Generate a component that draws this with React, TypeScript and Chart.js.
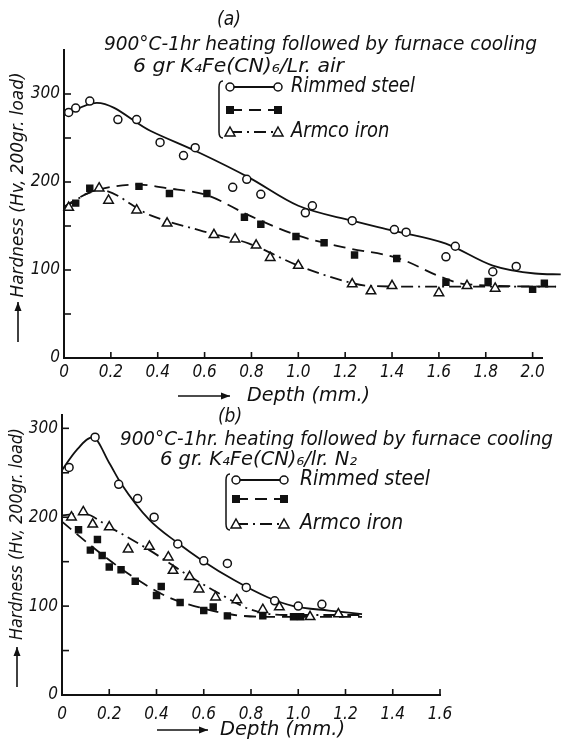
import { useEffect, useRef } from "react";
import { Chart, registerables } from "chart.js";

Chart.register(...registerables);

const INK = "#111";
const FONT = '"Liberation Sans Narrow", "DejaVu Sans Condensed", "Liberation Sans", sans-serif';

// ---------- Panel (a): air ----------
const rimA_x = [0.02, 0.05, 0.11, 0.23, 0.31, 0.41, 0.51, 0.56, 0.72, 0.78, 0.84, 1.03, 1.06, 1.23, 1.41, 1.46, 1.63, 1.67, 1.83, 1.93, 2.07];
const rimA_y = [279, 284, 292, 271, 271, 245, 230, 239, 194, 203, 186, 165, 173, 156, 146, 143, 115, 127, 98, 104, 98];
const sqA_x = [0.05, 0.11, 0.32, 0.45, 0.61, 0.77, 0.84, 0.99, 1.11, 1.24, 1.42, 1.63, 1.81, 2.0, 2.05];
const sqA_y = [176, 193, 195, 187, 187, 160, 152, 138, 131, 117, 113, 86, 87, 78, 85];
const triA_x = [0.02, 0.15, 0.19, 0.31, 0.44, 0.64, 0.73, 0.82, 0.88, 1.0, 1.23, 1.31, 1.4, 1.6, 1.72, 1.84];
const triA_y = [171, 193, 179, 168, 153, 140, 135, 128, 114, 105, 84, 76, 82, 74, 82, 79];

const rimCurveA_x = [0, 0.14, 0.37, 0.58, 0.79, 1.0, 1.23, 1.4, 1.63, 1.83, 2.01, 2.12];
const rimCurveA_y = [276, 290, 258, 233, 205, 173, 156, 145, 130, 105, 96, 95];
const sqCurveA_x = [0, 0.11, 0.32, 0.44, 0.61, 0.79, 1.0, 1.19, 1.43, 1.61, 1.71, 2.1];
const sqCurveA_y = [172, 188, 197, 193, 185, 162, 139, 126, 113, 92, 84, 81];
const triCurveA_x = [0, 0.15, 0.37, 0.58, 0.79, 1.0, 1.19, 1.3, 1.54, 2.1];
const triCurveA_y = [171, 191, 162, 145, 130, 105, 88, 82, 81, 81];

// ---------- Panel (b): N2 ----------
const rimB_x = [0.03, 0.14, 0.24, 0.32, 0.39, 0.49, 0.6, 0.7, 0.78, 0.9, 1.0, 1.1];
const rimB_y = [256, 290, 237, 221, 200, 170, 151, 148, 121, 106, 100, 102];
const triB_x = [0.04, 0.09, 0.13, 0.2, 0.28, 0.37, 0.45, 0.47, 0.54, 0.58, 0.65, 0.74, 0.85, 0.92, 1.05, 1.17];
const triB_y = [200, 206, 192, 189, 164, 167, 155, 140, 133, 119, 110, 107, 96, 99, 88, 91];
const sqB_x = [0.07, 0.12, 0.15, 0.17, 0.2, 0.25, 0.31, 0.4, 0.42, 0.5, 0.6, 0.64, 0.7, 0.85, 0.98, 1.01];
const sqB_y = [186, 163, 175, 157, 144, 141, 128, 112, 122, 104, 95, 99, 89, 89, 88, 88];

const rimCurveB_x = [0, 0.06, 0.13, 0.2, 0.25, 0.37, 0.49, 0.59, 0.73, 0.87, 0.98, 1.13, 1.27];
const rimCurveB_y = [253, 275, 290, 261, 238, 197, 171, 152, 129, 110, 100, 95, 91];
const triCurveB_x = [0, 0.09, 0.2, 0.37, 0.52, 0.66, 0.8, 0.94, 1.27];
const triCurveB_y = [202, 204, 189, 163, 137, 115, 96, 90, 90];
const sqCurveB_x = [0, 0.16, 0.3, 0.45, 0.59, 0.73, 0.87, 1.27];
const sqCurveB_y = [195, 160, 133, 110, 98, 90, 88, 88];

// ---------- Text ----------
const legendRimmed = "Rimmed steel";
const legendArmco = "Armco iron";
const yTitle = "Hardness (Hv, 200gr. load)";
const xTitle = "Depth (mm.)";
const titleA = ["(a)", "900°C-1hr heating followed by furnace cooling", "6 gr K₄Fe(CN)₆/Lr. air"];
const titleB = ["(b)", "900°C-1hr. heating followed by furnace cooling", "6 gr. K₄Fe(CN)₆/lr. N₂"];

const DASH_SQ = [12, 7];
const DASH_TRI = [12, 5, 2, 5];

function pts(xs: number[], ys: number[]) {
  return xs.map((x, i) => ({ x, y: ys[i] }));
}

function pointSet(data: any, style: string) {
  const base: any = {
    data,
    showLine: false,
    pointStyle: style,
    borderColor: INK,
    borderWidth: 1.5,
    clip: false,
  };
  if (style === "circle") Object.assign(base, { pointRadius: 4, backgroundColor: "#fff" });
  if (style === "rect") Object.assign(base, { pointRadius: 4.2, backgroundColor: INK });
  if (style === "triangle") Object.assign(base, { pointRadius: 5.5, backgroundColor: "#fff" });
  return base;
}

function curveSet(data: any, dash: number[]) {
  return {
    data,
    showLine: true,
    pointRadius: 0,
    borderColor: INK,
    borderWidth: 1.8,
    borderDash: dash,
    cubicInterpolationMode: "monotone",
    fill: false,
    clip: false,
  };
}

// draw text stretched/compressed horizontally to a target width
function fitText(ctx: CanvasRenderingContext2D, text: string, x: number, y: number, w: number, align: "left" | "center" = "left") {
  const m = ctx.measureText(text).width || 1;
  const s = w / m;
  ctx.save();
  ctx.translate(x, y);
  ctx.scale(s, 1);
  ctx.textAlign = align;
  ctx.fillText(text, 0, 0);
  ctx.restore();
}

function drawMarker(ctx: CanvasRenderingContext2D, style: string, x: number, y: number) {
  ctx.save();
  ctx.setLineDash([]);
  ctx.lineWidth = 1.5;
  ctx.strokeStyle = INK;
  if (style === "circle") {
    ctx.fillStyle = "#fff";
    ctx.beginPath();
    ctx.arc(x, y, 4, 0, Math.PI * 2);
    ctx.fill();
    ctx.stroke();
  } else if (style === "rect") {
    ctx.fillStyle = INK;
    ctx.fillRect(x - 4, y - 4, 8, 8);
  } else {
    ctx.fillStyle = "#fff";
    ctx.beginPath();
    ctx.moveTo(x, y - 5);
    ctx.lineTo(x + 5, y + 4);
    ctx.lineTo(x - 5, y + 4);
    ctx.closePath();
    ctx.fill();
    ctx.stroke();
  }
  ctx.restore();
}

function arrow(ctx: CanvasRenderingContext2D, x1: number, y1: number, x2: number, y2: number) {
  ctx.save();
  ctx.strokeStyle = INK;
  ctx.fillStyle = INK;
  ctx.lineWidth = 1.6;
  ctx.beginPath();
  ctx.moveTo(x1, y1);
  ctx.lineTo(x2, y2);
  ctx.stroke();
  const a = Math.atan2(y2 - y1, x2 - x1);
  ctx.beginPath();
  ctx.moveTo(x2, y2);
  ctx.lineTo(x2 - 9 * Math.cos(a) + 3.5 * Math.sin(a), y2 - 9 * Math.sin(a) - 3.5 * Math.cos(a));
  ctx.lineTo(x2 - 9 * Math.cos(a) - 3.5 * Math.sin(a), y2 - 9 * Math.sin(a) + 3.5 * Math.cos(a));
  ctx.closePath();
  ctx.fill();
  ctx.restore();
}

type Layout = {
  title: string[];
  titlePos: { lx: number; ly: number; l1x: number; l1y: number; l1w: number; l2x: number; l2y: number; l2w: number };
  legend: { bx: number; y0: number; y1: number; y2: number; x1: number; x2: number; tx: number; w0: number };
  yt: { x: number; cy: number; w: number; a0: number; a1: number };
  xt: { a0: number; a1: number; y: number; tx: number; tw: number };
  yMinor: number[];
  xTicks: number[];
};

function makeOverlay(L: Layout) {
  return {
    id: "overlay",
    afterDraw(chart: any) {
      const ctx: CanvasRenderingContext2D = chart.ctx;
      const xs = chart.scales.x;
      const ys = chart.scales.y;
      const area = chart.chartArea;
      ctx.save();
      // inward ticks
      ctx.strokeStyle = INK;
      ctx.lineWidth = 1.6;
      ctx.setLineDash([]);
      for (const v of L.yMinor) {
        const py = ys.getPixelForValue(v);
        ctx.beginPath();
        ctx.moveTo(area.left, py);
        ctx.lineTo(area.left + 7, py);
        ctx.stroke();
      }
      for (const v of L.xTicks) {
        const px = xs.getPixelForValue(v);
        ctx.beginPath();
        ctx.moveTo(px, area.bottom);
        ctx.lineTo(px, area.bottom - 6);
        ctx.stroke();
      }
      // titles
      ctx.fillStyle = INK;
      ctx.textBaseline = "middle";
      ctx.font = `italic 19px ${FONT}`;
      ctx.textAlign = "center";
      ctx.fillText(L.title[0], L.titlePos.lx, L.titlePos.ly);
      fitText(ctx, L.title[1], L.titlePos.l1x, L.titlePos.l1y, L.titlePos.l1w);
      fitText(ctx, L.title[2], L.titlePos.l2x, L.titlePos.l2y, L.titlePos.l2w);
      // legend
      const lg = L.legend;
      ctx.lineWidth = 1.5;
      ctx.beginPath();
      ctx.moveTo(lg.bx + 4, lg.y0 - 6);
      ctx.quadraticCurveTo(lg.bx, lg.y0 - 6, lg.bx, lg.y0);
      ctx.lineTo(lg.bx, lg.y2);
      ctx.quadraticCurveTo(lg.bx, lg.y2 + 6, lg.bx + 4, lg.y2 + 6);
      ctx.stroke();
      ctx.font = `italic 21px ${FONT}`;
      const legScale = lg.w0 / (ctx.measureText(legendRimmed).width || 1);
      const rows: [number, number[], string, string][] = [
        [lg.y0, [], "circle", legendRimmed],
        [lg.y1, DASH_SQ, "rect", ""],
        [lg.y2, DASH_TRI, "triangle", legendArmco],
      ];
      for (const [y, dash, st, label] of rows) {
        ctx.save();
        ctx.setLineDash(dash);
        ctx.lineWidth = 1.8;
        ctx.beginPath();
        ctx.moveTo(lg.x1, y);
        ctx.lineTo(lg.x2, y);
        ctx.stroke();
        ctx.restore();
        drawMarker(ctx, st, lg.x1, y);
        drawMarker(ctx, st, lg.x2, y);
        if (label) {
          ctx.save();
          ctx.translate(lg.tx, y);
          ctx.scale(legScale, 1);
          ctx.textAlign = "left";
          ctx.fillText(label, 0, 0);
          ctx.restore();
        }
      }
      // y title
      ctx.save();
      ctx.translate(L.yt.x, L.yt.cy);
      ctx.rotate(-Math.PI / 2);
      ctx.font = `italic 18px ${FONT}`;
      fitText(ctx, yTitle, 0, 0, L.yt.w, "center");
      ctx.restore();
      arrow(ctx, L.yt.x, L.yt.a0, L.yt.x, L.yt.a1);
      // x title
      arrow(ctx, L.xt.a0, L.xt.y, L.xt.a1, L.xt.y);
      ctx.font = `italic 20px ${FONT}`;
      fitText(ctx, xTitle, L.xt.tx, L.xt.y, L.xt.tw);
      ctx.restore();
    },
  };
}

function makeConfig(opts: {
  datasets: any[];
  xMax: number;
  yMax: number;
  padTop: number;
  padRight: number;
  yWidth: number;
  xHeight: number;
  xPad: number;
  layout: Layout;
}) {
  const tickFont = { family: FONT, size: 17, style: "italic" as const };
  return {
    type: "scatter" as const,
    data: { datasets: opts.datasets },
    options: {
      animation: false,
      responsive: false,
      events: [],
      layout: { padding: { top: opts.padTop, right: opts.padRight, left: 0, bottom: 0 } },
      plugins: { legend: { display: false }, tooltip: { enabled: false }, title: { display: false } },
      scales: {
        x: {
          type: "linear",
          min: 0,
          max: opts.xMax,
          grid: { display: false, drawTicks: false },
          border: { display: true, color: INK, width: 2 },
          ticks: {
            stepSize: 0.2,
            includeBounds: false,
            color: INK,
            font: tickFont,
            padding: opts.xPad,
            maxRotation: 0,
            autoSkip: false,
            callback: (v: number) => (Math.abs(v) < 1e-9 ? "0" : Number(v).toFixed(1)),
          },
          afterFit: (s: any) => {
            s.height = opts.xHeight;
          },
        },
        y: {
          type: "linear",
          min: 0,
          max: opts.yMax,
          grid: { display: false, drawTicks: false },
          border: { display: true, color: INK, width: 2 },
          ticks: {
            stepSize: 50,
            includeBounds: false,
            color: INK,
            font: tickFont,
            padding: 4,
            autoSkip: false,
            callback: (v: number) => (v % 100 === 0 ? String(v) : ""),
          },
          afterFit: (s: any) => {
            s.width = opts.yWidth;
          },
        },
      },
    },
    plugins: [makeOverlay(opts.layout)],
  };
}

export default function App() {
  const refA = useRef<HTMLCanvasElement>(null);
  const refB = useRef<HTMLCanvasElement>(null);

  useEffect(() => {
    const xTicksA = [0, 0.2, 0.4, 0.6, 0.8, 1.0, 1.2, 1.4, 1.6, 1.8, 2.0];
    const xTicksB = [0, 0.2, 0.4, 0.6, 0.8, 1.0, 1.2, 1.4, 1.6];
    const chartA = new Chart(
      refA.current as HTMLCanvasElement,
      makeConfig({
        datasets: [
          pointSet(pts(rimA_x, rimA_y), "circle"),
          pointSet(pts(sqA_x, sqA_y), "rect"),
          pointSet(pts(triA_x, triA_y), "triangle"),
          curveSet(pts(rimCurveA_x, rimCurveA_y), []),
          curveSet(pts(sqCurveA_x, sqCurveA_y), DASH_SQ),
          curveSet(pts(triCurveA_x, triCurveA_y), DASH_TRI),
        ],
        xMax: 2.04,
        yMax: 350,
        padTop: 50,
        padRight: 20,
        yWidth: 64,
        xHeight: 47,
        xPad: 4,
        layout: {
          title: titleA,
          titlePos: { lx: 229, ly: 20, l1x: 104, l1y: 45, l1w: 433, l2x: 133, l2y: 67, l2w: 211 },
          legend: { bx: 219, y0: 87, y1: 110, y2: 132, x1: 230, x2: 278, tx: 291, w0: 124 },
          yt: { x: 18, cy: 185, w: 225, a0: 342, a1: 302 },
          xt: { a0: 178, a1: 230, y: 396, tx: 247, tw: 123 },
          yMinor: [0, 50, 100, 150, 200, 250, 300],
          xTicks: xTicksA,
        },
      }) as any
    );
    const chartB = new Chart(
      refB.current as HTMLCanvasElement,
      makeConfig({
        datasets: [
          pointSet(pts(rimB_x, rimB_y), "circle"),
          pointSet(pts(sqB_x, sqB_y), "rect"),
          pointSet(pts(triB_x, triB_y), "triangle"),
          curveSet(pts(rimCurveB_x, rimCurveB_y), []),
          curveSet(pts(sqCurveB_x, sqCurveB_y), DASH_SQ),
          curveSet(pts(triCurveB_x, triCurveB_y), DASH_TRI),
        ],
        xMax: 1.6,
        yMax: 315,
        padTop: 15,
        padRight: 122,
        yWidth: 62,
        xHeight: 47,
        xPad: 9,
        layout: {
          title: titleB,
          titlePos: { lx: 230, ly: 17, l1x: 120, l1y: 40, l1w: 433, l2x: 160, l2y: 60, l2w: 197 },
          legend: { bx: 226, y0: 80, y1: 99, y2: 124, x1: 236, x2: 284, tx: 300, w0: 130 },
          yt: { x: 17, cy: 134, w: 212, a0: 287, a1: 247 },
          xt: { a0: 157, a1: 208, y: 330, tx: 220, tw: 125 },
          yMinor: [0, 50, 100, 150, 200, 250, 300],
          xTicks: xTicksB,
        },
      }) as any
    );
    return () => {
      chartA.destroy();
      chartB.destroy();
    };
  }, []);

  return (
    <div style={{ position: "absolute", left: 0, top: 0, width: 562, height: 742, background: "#fff" }}>
      <canvas ref={refA} width={562} height={405} style={{ position: "absolute", left: 0, top: 0, width: 562, height: 405 }} />
      <canvas ref={refB} width={562} height={342} style={{ position: "absolute", left: 0, top: 400, width: 562, height: 342 }} />
    </div>
  );
}
